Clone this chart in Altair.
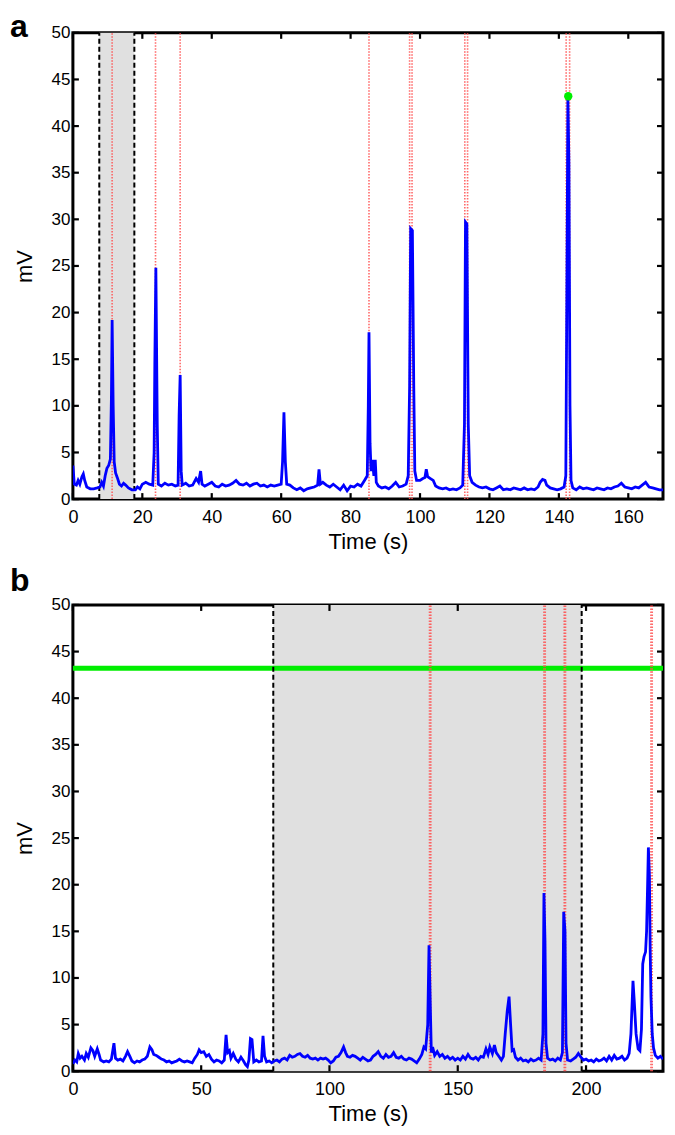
import altair as alt
import pandas as pd

# ---------------- Panel a data ----------------
a_t = [0.0, 0.4, 1.0, 1.5, 2.0, 2.6, 3.0, 3.4, 4.0, 5.0, 6.0, 7.0, 7.8, 8.3, 8.8, 9.3, 9.8, 10.3, 10.8, 11.1,
       11.3, 11.6, 11.9, 12.3, 12.8, 13.4, 14.0, 14.6, 15.2, 16.0, 17.0, 18.0, 18.6, 19.3, 20.0, 21.0, 22.0, 23.0,
       23.4, 23.6, 23.9, 24.3, 24.6, 25.5, 26.5, 27.5, 28.5, 29.5, 30.3, 30.6, 30.9, 31.2, 31.5, 32.5, 33.5, 34.5,
       35.5, 36.2, 36.8, 37.2, 38.0, 39.0, 40.0, 41.0, 42.0, 43.0, 44.0, 45.0, 46.0, 47.0, 48.0, 49.0, 50.0, 51.0,
       52.0, 53.0, 54.0, 55.0, 56.0, 57.0, 58.0, 59.0, 60.0, 60.4, 60.8, 61.2, 61.6, 62.5, 63.5, 64.5, 65.5, 66.5,
       67.5, 68.5, 69.5, 70.5, 70.9, 71.3, 72.0, 73.0, 74.0, 75.0, 76.0, 77.0, 78.0, 79.0, 80.0, 81.0, 82.0, 83.0,
       84.0, 84.8, 85.1, 85.3, 85.6, 85.9, 86.3, 86.7, 87.1, 87.4, 88.0, 89.0, 90.0, 91.0, 92.0, 93.0, 94.0, 95.0,
       96.0, 96.6, 97.0, 97.3, 97.8, 98.2, 98.5, 99.0, 100.0, 100.8, 101.4, 101.8, 102.2, 103.0, 103.8, 104.5,
       105.5, 106.5, 107.5, 108.5, 109.5, 110.5, 111.5, 112.3, 112.8, 113.1, 113.5, 113.9, 114.3, 115.0, 116.0,
       117.0, 118.0, 119.0, 120.0, 121.0, 122.0, 123.0, 124.0, 125.0, 126.0, 127.0, 128.0, 129.0, 130.0, 131.0,
       132.0, 133.0, 134.0, 134.6, 135.3, 136.0, 136.5, 137.5, 138.5, 139.5, 140.5, 141.5, 142.0, 142.3, 142.6,
       142.9, 143.2, 143.5, 144.0, 145.0, 146.0, 147.0, 148.0, 149.0, 150.0, 151.0, 152.0, 153.0, 154.0, 155.0,
       156.0, 157.0, 158.0, 159.0, 160.0, 161.0, 162.0, 163.0, 164.0, 165.0, 166.0, 167.0, 168.0, 169.0, 170.0]
a_v = [3.6, 1.6, 1.5, 2.0, 1.6, 2.4, 2.7, 2.0, 1.3, 1.1, 1.1, 1.2, 1.3, 1.8, 1.4, 2.5, 3.3, 3.6, 4.3, 11.0,
       19.2, 10.0, 4.0, 2.8, 2.3, 1.6, 1.4, 1.7, 1.5, 1.2, 1.0, 1.0, 1.3, 1.1, 1.6, 1.8, 1.6, 1.5,
       5.0, 14.5, 24.8, 8.0, 1.6, 1.4, 1.7, 1.5, 1.6, 1.4, 1.5, 9.0, 13.3, 3.0, 1.5, 1.7, 1.4, 1.5,
       2.2, 1.8, 3.0, 1.6, 1.4, 1.6, 1.8, 1.4, 1.3, 1.6, 1.4, 1.5, 1.7, 2.0, 1.6, 1.5, 1.7, 1.4,
       1.6, 1.7, 1.4, 1.5, 1.3, 1.5, 1.4, 1.5, 1.6, 4.0, 9.3, 4.0, 1.6, 1.5, 1.2, 1.0, 1.2, 0.9,
       1.1, 1.2, 1.3, 1.5, 3.2, 1.6, 1.8, 1.5, 1.3, 1.6, 1.3, 1.0, 1.5, 0.9, 1.4, 1.3, 1.6, 1.4,
       2.0, 2.5, 10.0, 17.9, 6.0, 3.0, 4.2, 2.5, 4.2, 1.8, 1.4, 1.2, 1.3, 1.1, 1.4, 1.8, 1.3, 1.4,
       1.6, 2.5, 12.0, 29.0, 28.8, 12.0, 3.0, 2.0, 2.0, 2.2, 2.3, 3.2, 2.4, 2.2, 2.0, 1.4,
       1.2, 1.1, 1.2, 1.0, 1.1, 1.0, 1.2, 1.5, 8.0, 29.7, 29.5, 8.0, 2.5, 1.8, 1.5,
       1.3, 1.2, 1.3, 1.1, 1.0, 1.2, 1.4, 1.0, 1.1, 1.0, 1.2, 1.1, 1.0, 1.2, 1.0,
       1.1, 1.0, 1.3, 1.8, 2.1, 2.0, 1.5, 1.2, 1.1, 1.0, 1.1, 1.3, 2.5, 22.0, 43.0,
       36.0, 10.0, 2.0, 1.2, 1.0, 1.3, 1.1, 1.2, 1.1, 1.0, 1.2, 1.1, 1.0, 1.2, 1.1,
       1.3, 1.4, 1.7, 1.3, 1.2, 1.1, 1.3, 1.2, 1.5, 1.8, 1.3, 1.2, 1.1, 1.0, 1.0]
a_red = [11.3, 23.8, 30.9, 85.3, 97.0, 97.7, 112.9, 113.7, 142.1, 143.1]
a_shade = [7.6, 17.7]
a_xticks = [0, 20, 40, 60, 80, 100, 120, 140, 160]
a_peak_t = [142.7]
a_peak_v = [43.2]

# ---------------- Panel b data ----------------
b_t = [0.0, 0.8, 1.5, 2.1, 2.8, 3.5, 4.5, 5.2, 6.0, 7.0, 7.8, 8.5, 9.5, 10.2, 10.8, 12.0, 13.0, 14.0, 15.0,
       16.0, 16.6, 17.5, 18.5, 19.5, 20.5, 21.3, 22.2, 23.0, 24.0, 25.0, 26.0, 27.0, 28.0, 29.0, 30.0, 30.8,
       31.5, 32.5, 33.5, 34.5, 35.5, 36.5, 37.5, 38.5, 39.5, 40.5, 41.5, 42.5, 43.5, 44.5, 45.5, 46.5, 47.5,
       48.5, 49.2, 50.0, 51.0, 52.0, 53.0, 54.0, 55.0, 56.0, 57.0, 58.0, 59.0, 59.7, 60.3, 61.0, 61.6, 62.5,
       63.5, 64.5, 65.5, 66.5, 67.3, 68.0, 68.6, 69.2, 69.8, 70.5, 71.5, 72.5, 73.5, 74.1, 74.7, 75.5, 76.5,
       77.5, 78.5, 79.5, 80.5, 81.5, 82.5, 83.5, 84.5, 85.5, 86.5, 87.5, 88.5, 89.5, 90.5, 91.5, 92.5, 93.5,
       94.5, 95.5, 96.5, 97.5, 98.5, 99.5, 100.5, 101.5, 102.5, 103.5, 104.5, 105.5, 106.3, 107.0, 108.0,
       109.0, 110.0, 111.0, 112.0, 113.0, 114.0, 115.0, 116.0, 117.0, 118.0, 119.0, 120.0, 121.0, 122.0,
       123.0, 124.0, 125.0, 126.0, 127.0, 128.0, 129.0, 130.0, 131.0, 132.0, 133.0, 134.0, 135.0, 136.0,
       136.8, 137.5, 138.3, 138.8, 139.3, 139.7, 140.2, 141.0, 142.0, 143.0, 144.0, 145.0, 146.0, 147.0,
       148.0, 149.0, 150.0, 151.0, 152.0, 153.0, 154.0, 155.0, 156.0, 157.0, 158.0, 159.0, 160.0, 161.0,
       161.8, 162.5, 163.5, 164.3, 165.0, 166.0, 167.0, 167.8, 168.5, 169.3, 170.0, 170.6, 171.2, 171.8,
       172.5, 173.5, 174.5, 175.5, 176.5, 177.5, 178.5, 179.5, 180.5, 181.5, 182.5, 183.2, 183.6, 184.0,
       184.4, 185.0, 186.0, 187.0, 188.0, 189.0, 190.0, 190.8, 191.3, 191.8, 192.2, 192.8, 194.0, 195.0,
       196.0, 197.0, 198.0, 199.0, 200.0, 201.0, 202.0, 203.0, 204.0, 205.0, 206.0, 207.0, 208.0, 209.0,
       210.0, 211.0, 212.0, 213.0, 214.0, 215.0, 216.0, 216.8, 217.5, 218.3, 218.8, 219.5, 220.3, 221.0,
       221.6, 222.1, 222.6, 223.2, 223.6, 224.0, 224.3, 224.7, 225.0, 225.3, 225.8, 226.3, 227.0, 228.0,
       229.0, 230.0]
b_v = [0.8, 1.2, 1.0, 1.9, 1.4, 1.6, 1.2, 1.9, 1.5, 2.5, 2.2, 1.6, 2.4, 1.8, 1.2, 1.0, 1.1, 1.0, 1.3,
       3.0, 1.4, 1.2, 1.3, 1.1, 1.6, 2.1, 1.6, 1.1, 0.9, 1.1, 1.0, 1.2, 1.3, 1.6, 2.6, 2.3,
       1.8, 1.7, 1.5, 1.3, 1.2, 1.0, 1.1, 0.9, 1.0, 1.1, 1.3, 1.1, 1.0, 1.1, 1.0, 0.9, 1.4,
       1.8, 2.3, 2.0, 2.1, 1.6, 1.8, 1.3, 1.0, 1.2, 1.1, 0.9, 1.2, 3.9, 2.0, 2.2, 1.4, 1.9,
       1.3, 1.0, 1.5, 1.1, 0.7, 0.5, 1.2, 3.5, 3.4, 1.0, 1.2, 1.0, 1.1, 3.8, 1.6, 1.0, 1.1,
       0.9, 1.1, 1.2, 1.0, 1.3, 1.4, 1.2, 1.7, 1.5, 1.6, 1.8, 1.9, 1.6, 1.5, 1.7, 1.4, 1.3,
       1.4, 1.2, 1.4, 1.3, 1.4, 1.2, 0.9, 1.1, 1.5, 1.6, 2.0, 2.6, 2.0, 1.6, 1.5,
       1.7, 1.6, 1.4, 1.2, 1.5, 1.3, 1.1, 1.2, 1.6, 1.8, 2.1, 1.6, 1.4, 1.8,
       1.5, 1.6, 2.0, 1.5, 1.4, 1.6, 1.3, 1.2, 1.4, 1.3, 1.1, 0.9, 1.3, 1.8,
       2.6, 2.4, 5.0, 13.5, 7.0, 2.0, 2.6, 1.7, 2.1, 1.6, 1.8, 1.4, 1.6, 1.3,
       1.5, 1.2, 1.4, 1.2, 1.6, 1.3, 1.8, 1.4, 1.3, 1.5, 1.2, 1.6, 1.5, 2.4,
       1.8, 2.6, 1.9, 2.8, 2.0, 1.6, 1.2, 1.6, 4.0, 6.5, 8.0, 5.0, 2.2, 2.3,
       1.5, 1.2, 1.4, 1.1, 1.2, 1.0, 1.3, 1.1, 1.2, 1.4, 1.2, 4.0, 19.1, 14.0,
       3.0, 1.4, 1.2, 1.3, 1.1, 1.4, 1.2, 2.0, 17.1, 15.0, 3.0, 1.2, 1.1, 1.3,
       1.5, 1.9, 1.5, 1.2, 1.3, 1.1, 1.2, 1.0, 1.3, 1.1, 1.2, 1.4, 1.1, 1.6,
       1.2, 1.7, 1.3, 1.4, 1.6, 1.2, 1.4, 1.9, 4.0, 9.7, 7.5, 4.0, 2.4, 2.2,
       4.5, 11.5, 12.3, 12.8, 15.0, 20.0, 24.0, 21.0, 13.0, 8.0, 4.0, 2.5, 1.7, 1.4,
       1.6, 1.3]
b_red = [139.0, 139.5, 183.6, 184.1, 191.5, 192.0, 225.3, 225.8]
b_shade = [78.1, 198.3]
b_xticks = [0, 50, 100, 150, 200]
b_thresh = [43.2]

y_ticks = [0, 5, 10, 15, 20, 25, 30, 35, 40, 45, 50]

W, H = 591, 467
FONT = "Liberation Sans"
TL = 6  # inward tick length


def panel(letter, t, v, red, shade, xticks, xmax, title_offset, peak=None, thresh=None):
    xs = alt.Scale(domain=[0, xmax], nice=False, zero=False)
    ys = alt.Scale(domain=[0, 50], nice=False)
    xaxis = alt.Axis(values=xticks, tickSize=0, domain=False, grid=False, labelFontSize=18,
                     labelPadding=9, labelFont=FONT, labelColor="black", title="Time (s)",
                     titleFont=FONT, titleFontSize=22, titleFontWeight="normal", titleColor="black",
                     titlePadding=5, labelFlush=False)
    yaxis = alt.Axis(values=y_ticks, tickSize=0, domain=False, grid=False, labelFontSize=17,
                     labelPadding=3, labelFont=FONT, labelColor="black", title="mV",
                     titleFont=FONT, titleFontSize=22, titleFontWeight="normal", titleColor="black",
                     titlePadding=15, labelFlush=False)

    def X(f):
        return alt.X(f, scale=xs, axis=xaxis)

    def Y(f):
        return alt.Y(f, scale=ys, axis=yaxis)

    shade_df = pd.DataFrame({"x0": [shade[0]], "x1": [shade[1]], "y0": [0], "y1": [50]})
    rect = alt.Chart(shade_df).mark_rect(color="#e0e0e0").encode(
        x=X("x0:Q"), x2="x1:Q", y=Y("y0:Q"), y2="y1:Q")
    layers = [rect]

    if thresh is not None:
        th = alt.Chart(pd.DataFrame({"v": thresh})).mark_rule(color="#00ee00", strokeWidth=5).encode(
            y=Y("v:Q"))
        layers.append(th)

    red_df = pd.DataFrame({"t": red, "y0": [0] * len(red), "y1": [50] * len(red)})
    reds = alt.Chart(red_df).mark_rule(color="#ff5050", strokeWidth=1.6, strokeDash=[1.5, 1.5],
                                       opacity=0.85).encode(
        x=X("t:Q"), y=Y("y0:Q"), y2="y1:Q")
    layers.append(reds)

    dash_df = pd.DataFrame({"t": shade, "y0": [0, 0], "y1": [50, 50]})
    dashes = alt.Chart(dash_df).mark_rule(color="black", strokeWidth=2, strokeDash=[5, 3]).encode(
        x=X("t:Q"), y=Y("y0:Q"), y2="y1:Q")
    layers.append(dashes)

    trace = alt.Chart(pd.DataFrame({"t": t, "v": v})).mark_line(
        color="#0000ff", strokeWidth=2.8, strokeJoin="miter", clip=True).encode(
        x=X("t:Q"), y=Y("v:Q"), order="t:Q")
    layers.append(trace)

    if peak is not None:
        pk = alt.Chart(pd.DataFrame({"t": peak[0], "v": peak[1]})).mark_point(
            filled=True, color="#00ee00", size=70, opacity=1).encode(
            x=X("t:Q"), y=Y("v:Q"))
        layers.append(pk)

    xt = pd.DataFrame({"t": xticks})
    yt = pd.DataFrame({"v": y_ticks})
    tick_style = dict(color="black", strokeWidth=2.2)
    layers.append(alt.Chart(xt).mark_rule(**tick_style).encode(
        x=X("t:Q"), y=alt.value(H), y2=alt.value(H - TL)))
    layers.append(alt.Chart(xt).mark_rule(**tick_style).encode(
        x=X("t:Q"), y=alt.value(0), y2=alt.value(TL)))
    layers.append(alt.Chart(yt).mark_rule(**tick_style).encode(
        y=Y("v:Q"), x=alt.value(0), x2=alt.value(TL)))
    layers.append(alt.Chart(yt).mark_rule(**tick_style).encode(
        y=Y("v:Q"), x=alt.value(W), x2=alt.value(W - TL)))

    return alt.layer(*layers).properties(
        width=W, height=H,
        title=alt.TitleParams(letter, anchor="start", frame="bounds", font=FONT, fontSize=32,
                              fontWeight="bold", color="black", dx=-3, offset=title_offset))


pa = panel("a", a_t, a_v, a_red, a_shade, a_xticks, 170, -20, peak=(a_peak_t, a_peak_v))
pb = panel("b", b_t, b_v, b_red, b_shade, b_xticks, 230, -2, thresh=b_thresh)

chart = alt.vconcat(pa, pb, spacing=9).properties(padding=0).configure(
    background="white").configure_view(stroke="black", strokeWidth=3)

chart.save("out.html", embed_options={"renderer": "svg", "actions": False})
